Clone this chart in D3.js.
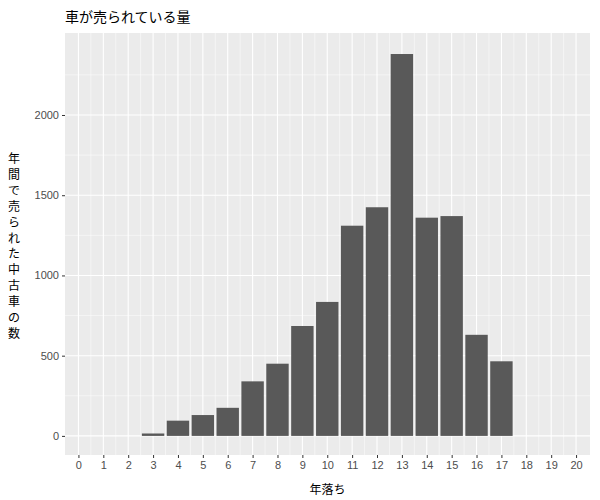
<!DOCTYPE html>
<html><head><meta charset="utf-8">
<script src="https://cdn.jsdelivr.net/npm/d3@7"></script>
<style>body{margin:0;background:#fff;font-family:"Noto Sans CJK JP",sans-serif}</style>
</head><body><svg id="chart"></svg>
<script>
const WIDTH = 600, HEIGHT = 500;
const ages = d3.range(0, 21);
const barAges = [3, 4, 5, 6, 7, 8, 9, 10, 11, 12, 13, 14, 15, 16, 17];
const counts = [15, 95, 130, 175, 340, 450, 685, 835, 1310, 1425, 2380, 1360, 1370, 630, 465];
const yTicks = [0, 500, 1000, 1500, 2000];

const m = {left: 65, right: 10, top: 33, bottom: 45};
const svg = d3.select('#chart').attr('width', WIDTH).attr('height', HEIGHT);

const x = d3.scaleLinear().domain([-0.54, 20.56]).range([m.left, WIDTH - m.right]);
const y = d3.scaleLinear().domain([-119, 2511]).range([HEIGHT - m.bottom, m.top]);

svg.append('rect').attr('x', m.left).attr('y', m.top)
  .attr('width', WIDTH - m.left - m.right).attr('height', HEIGHT - m.top - m.bottom)
  .attr('fill', '#ebebeb');

const g = svg.append('g');
// minor grid
g.selectAll('.ym').data(d3.range(250, 2500, 500)).enter().append('line')
  .attr('x1', m.left).attr('x2', WIDTH - m.right).attr('y1', d => y(d)).attr('y2', d => y(d))
  .attr('stroke', '#fff').attr('stroke-width', 0.5);
g.selectAll('.xm').data(d3.range(0.5, 20, 1)).enter().append('line')
  .attr('y1', m.top).attr('y2', HEIGHT - m.bottom).attr('x1', d => x(d)).attr('x2', d => x(d))
  .attr('stroke', '#fff').attr('stroke-width', 0.5);
// major grid
g.selectAll('.yM').data(yTicks).enter().append('line')
  .attr('x1', m.left).attr('x2', WIDTH - m.right).attr('y1', d => y(d)).attr('y2', d => y(d))
  .attr('stroke', '#fff').attr('stroke-width', 1.1);
g.selectAll('.xM').data(ages).enter().append('line')
  .attr('y1', m.top).attr('y2', HEIGHT - m.bottom).attr('x1', d => x(d)).attr('x2', d => x(d))
  .attr('stroke', '#fff').attr('stroke-width', 1.1);

svg.selectAll('.bar').data(barAges).enter().append('rect')
  .attr('x', d => x(d - 0.45)).attr('width', x(0.9) - x(0))
  .attr('y', (d, i) => y(counts[i])).attr('height', (d, i) => y(0) - y(counts[i]))
  .attr('fill', '#595959');

const yAxis = svg.append('g').attr('transform', `translate(${m.left},0)`)
  .call(d3.axisLeft(y).tickValues(yTicks).tickFormat(d3.format('d')).tickSize(3).tickPadding(3));
const xAxis = svg.append('g').attr('transform', `translate(0,${HEIGHT - m.bottom})`)
  .call(d3.axisBottom(x).tickValues(ages).tickSize(3).tickPadding(3));
[xAxis, yAxis].forEach(a => {
  a.select('.domain').remove();
  a.selectAll('line').attr('stroke', '#333');
  a.selectAll('text').attr('fill', '#4d4d4d').attr('font-size', 11).attr('font-family', 'Liberation Sans, Arial');
});

svg.append('text').attr('x', m.left).attr('y', 22).attr('font-size', 14).attr('fill', '#000')
  .text('車が売られている量');
svg.append('text').attr('x', (m.left + WIDTH - m.right) / 2).attr('y', 494)
  .attr('text-anchor', 'middle').attr('font-size', 12).text('年落ち');

const yLabelRows = ['年', '間', 'で', '売', 'ら', 'れ', 'た', '中', '古', '車', 'の', '数'];
const yl = svg.append('g');
yLabelRows.forEach((c, i) => {
  yl.append('text').attr('x', 14).attr('y', 163 + i * 15.9)
    .attr('font-size', 12).attr('text-anchor', 'middle').text(c);
});
</script></body></html>
